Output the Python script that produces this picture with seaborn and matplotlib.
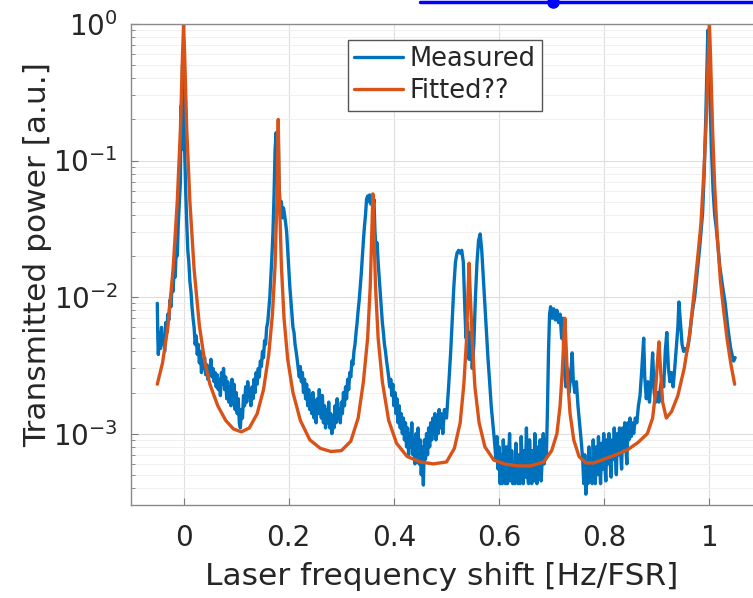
import numpy as np
import matplotlib

matplotlib.use('Agg')
import matplotlib.pyplot as plt
import seaborn as sns
import pandas as pd
from matplotlib.lines import Line2D
from matplotlib.ticker import FixedLocator, FixedFormatter, LogLocator, NullFormatter

##################### values
# fitted curve (smooth), (shift, power) pairs
fit_pts = [(-0.050, 2.3e-3), (-0.040, 3.3e-3), (-0.030, 6.0e-3), (-0.020, 1.6e-2), (-0.012, 5.0e-2),
           (-0.006, 0.17), (-0.002, 0.6), (0.000, 1.0), (0.002, 0.6), (0.006, 0.17),
           (0.012, 5.0e-2), (0.020, 1.6e-2), (0.030, 6.2e-3), (0.040, 3.4e-3), (0.050, 2.3e-3),
           (0.065, 1.6e-3), (0.080, 1.25e-3), (0.095, 1.08e-3), (0.110, 1.03e-3), (0.125, 1.1e-3),
           (0.140, 1.4e-3), (0.152, 2.1e-3), (0.162, 3.8e-3), (0.169, 7.5e-3), (0.174, 1.7e-2),
           (0.178, 6.0e-2), (0.180, 0.2), (0.182, 6.0e-2), (0.186, 1.7e-2), (0.191, 7.0e-3),
           (0.198, 3.5e-3), (0.208, 2.0e-3), (0.222, 1.25e-3), (0.240, 9.0e-4), (0.260, 7.8e-4),
           (0.280, 7.4e-4), (0.300, 7.5e-4), (0.318, 8.8e-4), (0.332, 1.3e-3), (0.342, 2.4e-3),
           (0.350, 5.0e-3), (0.355, 1.2e-2), (0.358, 3.0e-2), (0.360, 5.7e-2), (0.362, 3.0e-2),
           (0.365, 1.2e-2), (0.370, 5.0e-3), (0.378, 2.4e-3), (0.390, 1.25e-3), (0.405, 8.5e-4),
           (0.425, 6.8e-4), (0.450, 6.2e-4), (0.475, 6.0e-4), (0.500, 6.2e-4), (0.515, 7.8e-4),
           (0.526, 1.2e-3), (0.533, 2.3e-3), (0.538, 4.8e-3), (0.541, 1.1e-2), (0.543, 1.77e-2),
           (0.545, 1.1e-2), (0.549, 4.8e-3), (0.554, 2.2e-3), (0.562, 1.2e-3), (0.573, 8.0e-4),
           (0.590, 6.4e-4), (0.610, 6.0e-4), (0.635, 5.8e-4), (0.660, 5.8e-4), (0.685, 6.2e-4),
           (0.700, 7.5e-4), (0.710, 1.0e-3), (0.716, 1.6e-3), (0.720, 2.8e-3), (0.723, 4.8e-3),
           (0.725, 7.0e-3), (0.727, 4.8e-3), (0.730, 2.6e-3), (0.735, 1.4e-3), (0.742, 9.0e-4),
           (0.752, 6.8e-4), (0.765, 6.1e-4), (0.780, 6.1e-4), (0.800, 6.5e-4), (0.822, 7.0e-4),
           (0.844, 7.6e-4), (0.864, 8.6e-4), (0.882, 1.0e-3), (0.892, 1.3e-3), (0.897, 1.9e-3),
           (0.901, 3.3e-3), (0.904, 4.7e-3), (0.907, 3.0e-3), (0.911, 1.7e-3), (0.918, 1.3e-3),
           (0.928, 1.45e-3), (0.940, 1.9e-3), (0.952, 3.0e-3), (0.962, 5.2e-3), (0.970, 1.0e-2),
           (0.978, 2.0e-2), (0.984, 3.5e-2), (0.990, 9.0e-2), (0.994, 0.2), (0.998, 0.6),
           (1.000, 1.0), (1.002, 0.6), (1.006, 0.17), (1.010, 6.5e-2), (1.015, 2.8e-2),
           (1.021, 1.3e-2), (1.027, 8.0e-3), (1.034, 4.8e-3), (1.041, 3.2e-3), (1.048, 2.3e-3)]

# measured trace (noisy), (shift, power) pairs
meas_pts = [
    (-0.050, 9.0e-3), (-0.049, 5.0e-3), (-0.048, 3.8e-3), (-0.046, 5.5e-3), (-0.044, 4.2e-3),
    (-0.042, 6.0e-3), (-0.040, 4.5e-3), (-0.038, 5.2e-3), (-0.036, 4.0e-3), (-0.034, 6.5e-3),
    (-0.032, 5.5e-3), (-0.030, 7.5e-3), (-0.028, 6.8e-3), (-0.026, 9.5e-3), (-0.024, 8.5e-3),
    (-0.022, 1.2e-2), (-0.020, 1.1e-2), (-0.018, 1.6e-2), (-0.016, 1.4e-2), (-0.014, 2.2e-2),
    (-0.012, 2.0e-2), (-0.010, 3.5e-2), (-0.008, 5.0e-2), (-0.006, 7.0e-2), (-0.005, 0.25),
    (-0.004, 0.12), (-0.003, 0.2), (-0.002, 0.5), (-0.001, 0.3), (0.000, 0.45),
    (0.001, 0.2), (0.002, 0.12), (0.004, 6.0e-2), (0.006, 3.5e-2), (0.008, 2.2e-2),
    (0.010, 1.8e-2), (0.012, 1.3e-2), (0.014, 1.1e-2), (0.016, 8.5e-3), (0.018, 7.0e-3),
    (0.020, 6.0e-3), (0.022, 4.5e-3), (0.024, 5.2e-3), (0.026, 3.8e-3), (0.028, 4.5e-3),
    (0.030, 3.3e-3), (0.032, 4.0e-3), (0.034, 2.8e-3), (0.036, 3.5e-3), (0.038, 3.0e-3),
    (0.040, 3.6e-3), (0.042, 2.7e-3), (0.044, 3.2e-3), (0.046, 2.5e-3), (0.048, 3.1e-3),
    (0.050, 2.9e-3), (0.052, 3.5e-3), (0.054, 2.6e-3), (0.056, 3.0e-3), (0.058, 2.4e-3),
    (0.060, 2.8e-3), (0.062, 2.2e-3), (0.064, 2.7e-3), (0.066, 2.1e-3), (0.068, 2.5e-3),
    (0.070, 1.9e-3), (0.072, 2.8e-3), (0.074, 2.3e-3), (0.076, 3.0e-3), (0.078, 2.1e-3),
    (0.080, 2.6e-3), (0.082, 1.8e-3), (0.084, 2.4e-3), (0.086, 1.7e-3), (0.088, 2.2e-3),
    (0.090, 1.6e-3), (0.092, 2.5e-3), (0.094, 1.9e-3), (0.096, 2.3e-3), (0.098, 1.5e-3),
    (0.100, 2.0e-3), (0.102, 1.4e-3), (0.104, 1.8e-3), (0.106, 1.2e-3), (0.108, 1.1e-3),
    (0.110, 1.5e-3), (0.112, 1.3e-3), (0.114, 1.9e-3), (0.116, 1.6e-3), (0.118, 2.2e-3),
    (0.120, 1.7e-3), (0.122, 2.4e-3), (0.124, 1.9e-3), (0.126, 2.1e-3), (0.128, 1.6e-3),
    (0.130, 2.2e-3), (0.132, 1.8e-3), (0.134, 2.5e-3), (0.136, 2.0e-3), (0.138, 2.8e-3),
    (0.140, 2.3e-3), (0.142, 3.0e-3), (0.144, 2.6e-3), (0.146, 3.4e-3), (0.148, 3.1e-3),
    (0.150, 4.0e-3), (0.152, 3.6e-3), (0.154, 4.8e-3), (0.156, 4.5e-3), (0.158, 6.0e-3),
    (0.160, 6.5e-3), (0.162, 8.0e-3), (0.164, 1.0e-2), (0.166, 1.4e-2), (0.168, 2.0e-2),
    (0.170, 3.0e-2), (0.172, 5.5e-2), (0.174, 0.12), (0.176, 0.16), (0.177, 0.10),
    (0.178, 0.14), (0.180, 0.16), (0.181, 8.0e-2), (0.182, 6.0e-2), (0.184, 4.5e-2),
    (0.186, 5.0e-2), (0.188, 3.8e-2), (0.190, 4.5e-2), (0.192, 4.0e-2), (0.194, 3.5e-2),
    (0.196, 3.0e-2), (0.198, 2.2e-2), (0.200, 1.6e-2), (0.202, 1.2e-2), (0.204, 9.5e-3),
    (0.206, 7.5e-3), (0.208, 6.0e-3), (0.210, 5.5e-3), (0.212, 4.5e-3), (0.214, 4.0e-3),
    (0.216, 3.5e-3), (0.218, 3.0e-3), (0.220, 2.6e-3), (0.222, 3.1e-3), (0.224, 2.4e-3),
    (0.226, 2.8e-3), (0.228, 2.0e-3), (0.230, 2.5e-3), (0.232, 1.8e-3), (0.234, 2.3e-3),
    (0.236, 1.6e-3), (0.238, 2.1e-3), (0.240, 1.5e-3), (0.242, 1.9e-3), (0.244, 1.4e-3),
    (0.246, 2.0e-3), (0.248, 1.3e-3), (0.250, 1.7e-3), (0.252, 1.2e-3), (0.254, 1.8e-3),
    (0.256, 1.4e-3), (0.258, 2.1e-3), (0.260, 1.6e-3), (0.262, 1.3e-3), (0.264, 1.9e-3),
    (0.266, 1.2e-3), (0.268, 1.6e-3), (0.270, 1.1e-3), (0.272, 1.5e-3), (0.274, 1.2e-3),
    (0.276, 1.7e-3), (0.278, 1.1e-3), (0.280, 1.4e-3), (0.282, 1.0e-3), (0.284, 1.3e-3),
    (0.286, 1.1e-3), (0.288, 1.6e-3), (0.290, 1.2e-3), (0.292, 1.8e-3), (0.294, 1.3e-3),
    (0.296, 1.5e-3), (0.298, 1.2e-3), (0.300, 1.7e-3), (0.302, 1.4e-3), (0.304, 2.0e-3),
    (0.306, 1.6e-3), (0.308, 2.2e-3), (0.310, 1.8e-3), (0.312, 2.5e-3), (0.314, 2.1e-3),
    (0.316, 2.8e-3), (0.318, 2.6e-3), (0.320, 3.4e-3), (0.322, 3.2e-3), (0.324, 4.0e-3),
    (0.326, 4.5e-3), (0.328, 5.5e-3), (0.330, 6.5e-3), (0.332, 8.0e-3), (0.334, 9.5e-3),
    (0.336, 1.2e-2), (0.338, 1.5e-2), (0.340, 2.0e-2), (0.342, 2.6e-2), (0.344, 3.3e-2),
    (0.346, 4.0e-2), (0.348, 5.2e-2), (0.350, 5.5e-2), (0.352, 5.0e-2), (0.354, 5.6e-2),
    (0.356, 4.8e-2), (0.358, 5.4e-2), (0.360, 4.5e-2), (0.362, 5.2e-2), (0.364, 3.0e-2),
    (0.366, 2.2e-2), (0.368, 2.5e-2), (0.370, 1.8e-2), (0.372, 1.4e-2), (0.374, 1.1e-2),
    (0.376, 8.5e-3), (0.378, 6.5e-3), (0.380, 5.5e-3), (0.382, 4.5e-3), (0.384, 4.0e-3),
    (0.386, 3.4e-3), (0.388, 3.0e-3), (0.390, 2.6e-3), (0.392, 2.2e-3), (0.394, 2.5e-3),
    (0.396, 1.9e-3), (0.398, 2.3e-3), (0.400, 1.6e-3), (0.402, 2.0e-3), (0.404, 1.4e-3),
    (0.406, 1.8e-3), (0.408, 1.2e-3), (0.410, 1.6e-3), (0.412, 1.1e-3), (0.414, 1.4e-3),
    (0.416, 1.0e-3), (0.418, 1.3e-3), (0.420, 9.0e-4), (0.422, 1.2e-3), (0.424, 8.0e-4),
    (0.426, 1.1e-3), (0.428, 7.0e-4), (0.430, 1.0e-3), (0.432, 8.0e-4), (0.434, 1.2e-3),
    (0.436, 7.0e-4), (0.438, 9.0e-4), (0.440, 6.0e-4), (0.442, 1.0e-3), (0.444, 7.0e-4),
    (0.446, 1.1e-3), (0.448, 6.0e-4), (0.450, 9.0e-4), (0.452, 5.0e-4), (0.454, 8.0e-4),
    (0.456, 4.2e-4), (0.458, 9.0e-4), (0.460, 6.5e-4), (0.462, 1.0e-3), (0.464, 7.0e-4),
    (0.466, 1.1e-3), (0.468, 8.0e-4), (0.470, 1.2e-3), (0.472, 9.0e-4), (0.474, 1.3e-3),
    (0.476, 1.0e-3), (0.478, 1.4e-3), (0.480, 9.0e-4), (0.482, 1.3e-3), (0.484, 1.0e-3),
    (0.486, 1.5e-3), (0.488, 1.1e-3), (0.490, 1.4e-3), (0.493, 1.0e-3), (0.496, 1.5e-3),
    (0.500, 1.3e-3), (0.504, 2.2e-3), (0.508, 4.0e-3), (0.511, 7.0e-3), (0.514, 1.2e-2),
    (0.517, 1.8e-2), (0.520, 2.1e-2), (0.523, 2.2e-2), (0.526, 2.1e-2), (0.529, 2.2e-2),
    (0.532, 1.8e-2), (0.535, 8.0e-3), (0.537, 5.0e-3), (0.540, 6.5e-3), (0.543, 3.5e-3),
    (0.546, 5.5e-3), (0.549, 3.0e-3), (0.552, 4.5e-3), (0.555, 1.0e-2), (0.558, 1.8e-2),
    (0.561, 2.6e-2), (0.564, 2.9e-2), (0.567, 2.2e-2), (0.570, 1.4e-2), (0.573, 9.0e-3),
    (0.576, 5.5e-3), (0.579, 3.5e-3), (0.582, 2.4e-3), (0.585, 1.6e-3), (0.588, 1.2e-3),
    (0.591, 9.0e-4), (0.594, 6.5e-4), (0.596, 9.5e-4), (0.598, 5.5e-4), (0.600, 8.0e-4),
    (0.602, 4.3e-4), (0.604, 7.0e-4), (0.606, 4.3e-4), (0.608, 9.0e-4), (0.610, 5.5e-4),
    (0.612, 4.3e-4), (0.614, 8.0e-4), (0.616, 4.3e-4), (0.618, 6.5e-4), (0.620, 1.0e-3),
    (0.622, 4.5e-4), (0.624, 7.5e-4), (0.626, 4.3e-4), (0.628, 6.0e-4), (0.630, 4.3e-4),
    (0.632, 8.5e-4), (0.634, 5.0e-4), (0.636, 4.3e-4), (0.638, 7.0e-4), (0.640, 4.3e-4),
    (0.642, 9.5e-4), (0.644, 6.0e-4), (0.646, 4.3e-4), (0.648, 7.5e-4), (0.650, 4.8e-4),
    (0.652, 1.1e-3), (0.654, 5.0e-4), (0.656, 4.3e-4), (0.658, 9.0e-4), (0.660, 5.5e-4),
    (0.662, 4.3e-4), (0.664, 7.5e-4), (0.666, 4.5e-4), (0.668, 1.0e-3), (0.670, 6.0e-4),
    (0.672, 4.3e-4), (0.674, 8.0e-4), (0.676, 5.0e-4), (0.678, 9.0e-4), (0.680, 4.5e-4),
    (0.682, 6.5e-4), (0.684, 1.0e-3), (0.686, 6.0e-4), (0.688, 9.0e-4), (0.690, 7.0e-4),
    (0.692, 1.5e-3), (0.694, 4.0e-3), (0.696, 7.5e-3), (0.698, 8.5e-3), (0.701, 7.0e-3),
    (0.704, 8.2e-3), (0.707, 6.8e-3), (0.710, 8.0e-3), (0.713, 6.5e-3), (0.716, 7.5e-3),
    (0.719, 5.0e-3), (0.721, 7.0e-3), (0.724, 3.0e-3), (0.727, 2.2e-3), (0.730, 3.0e-3),
    (0.733, 2.0e-3), (0.736, 2.6e-3), (0.739, 3.9e-3), (0.741, 2.5e-3), (0.744, 2.0e-3),
    (0.747, 2.4e-3), (0.750, 1.6e-3), (0.753, 1.2e-3), (0.756, 9.0e-4), (0.759, 6.5e-4),
    (0.761, 4.3e-4), (0.763, 7.0e-4), (0.765, 3.6e-4), (0.767, 6.0e-4), (0.769, 4.3e-4),
    (0.771, 8.0e-4), (0.773, 4.5e-4), (0.775, 6.5e-4), (0.777, 4.3e-4), (0.779, 9.0e-4),
    (0.781, 5.0e-4), (0.783, 4.3e-4), (0.785, 8.0e-4), (0.787, 5.0e-4), (0.789, 9.5e-4),
    (0.791, 6.0e-4), (0.793, 4.3e-4), (0.795, 8.5e-4), (0.797, 5.5e-4), (0.799, 1.0e-3),
    (0.801, 6.0e-4), (0.803, 4.5e-4), (0.805, 9.0e-4), (0.807, 6.0e-4), (0.809, 1.0e-3),
    (0.811, 6.5e-4), (0.813, 4.8e-4), (0.815, 9.0e-4), (0.817, 6.5e-4), (0.819, 1.1e-3),
    (0.821, 7.0e-4), (0.823, 5.0e-4), (0.825, 1.0e-3), (0.827, 7.0e-4), (0.829, 1.1e-3),
    (0.831, 7.5e-4), (0.833, 5.5e-4), (0.835, 1.1e-3), (0.837, 8.0e-4), (0.839, 1.2e-3),
    (0.841, 8.0e-4), (0.843, 6.0e-4), (0.845, 1.2e-3), (0.847, 9.0e-4), (0.849, 1.3e-3),
    (0.851, 9.5e-4), (0.853, 1.2e-3), (0.856, 1.0e-3), (0.859, 1.3e-3), (0.862, 1.2e-3),
    (0.865, 1.6e-3), (0.868, 1.9e-3), (0.871, 2.8e-3), (0.873, 3.8e-3), (0.875, 5.0e-3),
    (0.877, 2.6e-3), (0.880, 1.8e-3), (0.883, 2.4e-3), (0.886, 1.7e-3), (0.889, 2.4e-3),
    (0.892, 3.9e-3), (0.895, 2.0e-3), (0.898, 1.7e-3), (0.901, 2.0e-3), (0.904, 1.7e-3),
    (0.907, 2.2e-3), (0.910, 2.6e-3), (0.913, 2.2e-3), (0.916, 4.0e-3), (0.919, 5.5e-3),
    (0.922, 3.0e-3), (0.925, 2.4e-3), (0.928, 2.8e-3), (0.931, 2.2e-3), (0.934, 3.0e-3),
    (0.937, 4.2e-3), (0.940, 6.0e-3), (0.942, 9.2e-3), (0.945, 6.5e-3), (0.948, 4.5e-3),
    (0.951, 4.0e-3), (0.954, 4.2e-3), (0.957, 4.0e-3), (0.960, 4.5e-3), (0.963, 5.5e-3),
    (0.966, 7.0e-3), (0.969, 8.5e-3), (0.972, 1.0e-2), (0.975, 1.3e-2), (0.978, 1.7e-2),
    (0.981, 2.2e-2), (0.984, 3.0e-2), (0.987, 4.1e-2), (0.990, 8.0e-2), (0.993, 0.2),
    (0.995, 0.41), (0.997, 0.9), (0.999, 0.7), (1.001, 0.28), (1.004, 0.12),
    (1.007, 6.0e-2), (1.010, 4.0e-2), (1.013, 3.2e-2), (1.016, 2.4e-2), (1.020, 1.65e-2),
    (1.025, 1.2e-2), (1.030, 9.0e-3), (1.035, 6.0e-3), (1.040, 4.3e-3), (1.043, 3.8e-3),
    (1.046, 3.4e-3), (1.049, 3.6e-3)]

blue = '#0072BD'
orange = '#D95319'
text_col = '#262626'

df_meas = pd.DataFrame(meas_pts, columns=['shift', 'power'])
df_fit = pd.DataFrame(fit_pts, columns=['shift', 'power'])

sns.set_style("whitegrid")
plt.rcParams['font.family'] = ['DejaVu Sans']
plt.rcParams['mathtext.fontset'] = 'dejavusans'

fig = plt.figure(figsize=[7.53, 5.98], dpi=100)
ax = fig.add_axes([131 / 753, 93 / 598, (762 - 131) / 753, (505 - 24) / 598])

sns.lineplot(data=df_meas, x='shift', y='power', ax=ax, color=blue, lw=2.4,
             estimator=None, sort=False, label='Measured')
sns.lineplot(data=df_fit, x='shift', y='power', ax=ax, color=orange, lw=2.4,
             estimator=None, sort=False, label='Fitted??')

ax.set_yscale('log')
ax.set_xlim(-0.1, 1.1)
ax.set_ylim(3e-4, 1)

ax.xaxis.set_major_locator(FixedLocator([0, 0.2, 0.4, 0.6, 0.8, 1.0]))
ax.xaxis.set_major_formatter(FixedFormatter(['0', '0.2', '0.4', '0.6', '0.8', '1']))
ax.yaxis.set_major_locator(FixedLocator([1e-3, 1e-2, 1e-1, 1]))
ax.yaxis.set_major_formatter(FixedFormatter([r'$10^{-3}$', r'$10^{-2}$', r'$10^{-1}$', r'$10^{0}$']))
ax.yaxis.set_minor_locator(LogLocator(base=10, subs=np.arange(2, 10)))
ax.yaxis.set_minor_formatter(NullFormatter())

ax.grid(True, which='major', color='#dedede', lw=0.8)
ax.grid(True, which='minor', axis='y', color='#f0f0f0', lw=0.7)
ax.tick_params(which='both', direction='in', colors='#7a7a7a', labelcolor=text_col,
               labelsize=20, top=False, right=False, left=True, bottom=True)
ax.tick_params(which='major', length=5, width=0.8)
ax.tick_params(which='minor', length=3, width=0.6)
ax.tick_params(axis='x', pad=13.5)
ax.tick_params(axis='y', pad=9.5)
for s in ax.spines.values():
    s.set_color('#8a8a8a')
    s.set_linewidth(1.0)

ax.set_xlabel('Laser frequency shift [Hz/FSR]', fontsize=22.5, color=text_col)
ax.set_ylabel('Transmitted power [a.u.]', fontsize=22.5, color=text_col)
ax.xaxis.set_label_coords(0.493, -0.118)
ax.yaxis.set_label_coords(-0.125, 0.52)

leg = ax.legend(loc='upper left', bbox_to_anchor=(0.344, 0.967), fontsize=18.5,
                frameon=True, fancybox=False, framealpha=1, edgecolor='#555555',
                handlelength=1.9, handletextpad=0.23, borderpad=0.25, labelspacing=0.23,
                borderaxespad=0)
leg.get_frame().set_linewidth(1.0)

# cut-off hyperlink underline at the top of the screenshot
fig.add_artist(Line2D([420 / 753, 1.0], [1 - 1.5 / 598, 1 - 1.5 / 598],
                      transform=fig.transFigure, color='#0000ff', lw=2.5))
fig.add_artist(Line2D([553 / 753], [1 - 2 / 598], transform=fig.transFigure,
                      marker='o', ms=8, color='#0000ff'))

fig.savefig('out.png', dpi=100)
